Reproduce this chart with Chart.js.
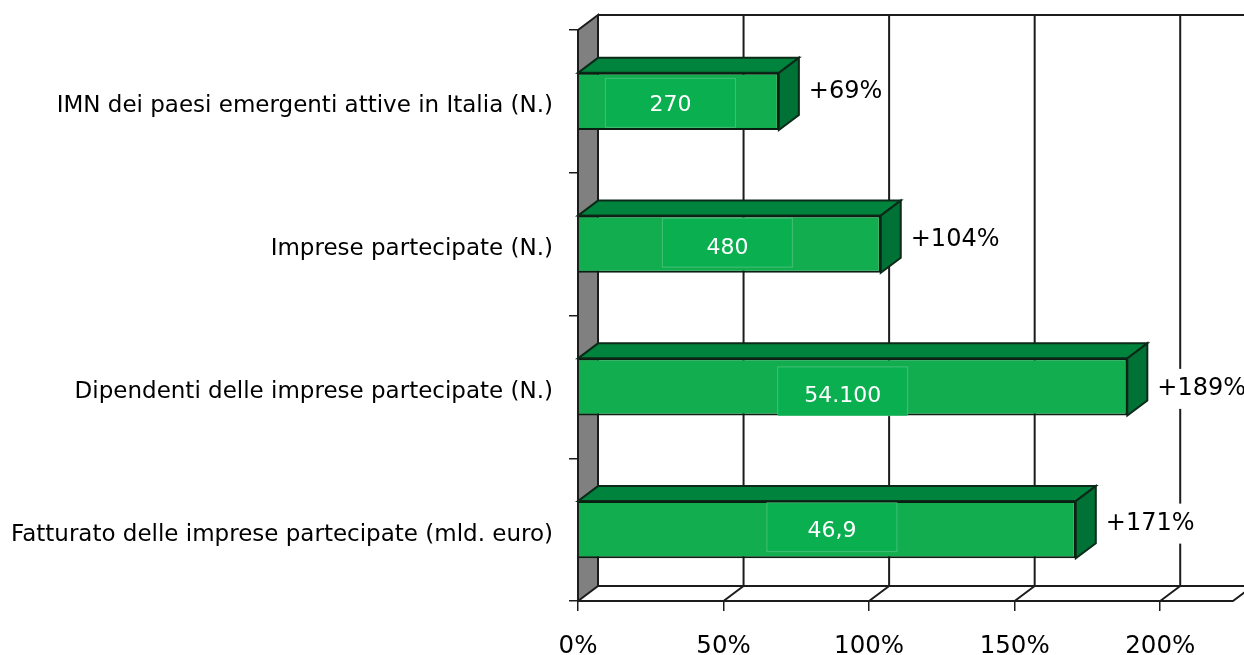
<!DOCTYPE html>
<html>
<head>
<meta charset="utf-8">
<title>IMN dei paesi emergenti</title>
<script src="https://cdn.jsdelivr.net/npm/chart.js@4"></script>
<style>
  html, body { margin: 0; padding: 0; background: #fff; }
  #wrap { width: 1244px; height: 655px; }
</style>
</head>
<body>
<div id="wrap"><canvas id="chart" width="1244" height="655"></canvas></div>
<script>
const categories = [
  "IMN dei paesi emergenti attive in Italia (N.)",
  "Imprese partecipate (N.)",
  "Dipendenti delle imprese partecipate (N.)",
  "Fatturato delle imprese partecipate (mld. euro)"
];
const growthValues = [69, 104, 188.7, 171];
const growthLabels = ["+69%", "+104%", "+189%", "+171%"];
const absoluteLabels = ["270", "480", "54.100", "46,9"];

const FONT = '"DejaVu Sans", sans-serif';
const LINE = "#1c1c1c";
const DX = 20, DY = -15;

function poly(ctx, pts, fill) {
  ctx.beginPath();
  pts.forEach((p, i) => i ? ctx.lineTo(p[0], p[1]) : ctx.moveTo(p[0], p[1]));
  ctx.closePath();
  if (fill) { ctx.fillStyle = fill; ctx.fill(); }
  ctx.stroke();
}

// 3D box look: back wall, floor, back grid lines and bar top/side faces
const box3d = {
  id: "box3d",
  beforeDatasetsDraw(chart) {
    const { ctx, chartArea: a, scales: { x } } = chart;
    ctx.save();
    ctx.strokeStyle = LINE;
    ctx.lineWidth = 2;

    poly(ctx, [[a.left, a.top], [a.left + DX, a.top + DY], [a.left + DX, a.bottom + DY], [a.left, a.bottom]], "#808080");

    ctx.beginPath();
    ctx.moveTo(a.left + DX, a.top + DY);
    ctx.lineTo(chart.width, a.top + DY);
    ctx.moveTo(a.left + DX, a.bottom + DY);
    ctx.lineTo(chart.width, a.bottom + DY);
    ctx.moveTo(a.right, a.bottom);
    ctx.lineTo(a.right + DX, a.bottom + DY);
    x.ticks.forEach(t => {
      const px = x.getPixelForValue(t.value);
      if (t.value > 0) {
        ctx.moveTo(px, a.bottom);
        ctx.lineTo(px + DX, a.bottom + DY);
        ctx.moveTo(px + DX, a.bottom + DY);
        ctx.lineTo(px + DX, a.top + DY);
      }
    });
    ctx.stroke();

    ctx.lineWidth = 2;
    ctx.strokeStyle = "#0c2a18";
    chart.getDatasetMeta(0).data.forEach(bar => {
      const top = bar.y - bar.height / 2, bot = bar.y + bar.height / 2;
      poly(ctx, [[a.left, top], [a.left + DX, top + DY], [bar.x + DX, top + DY], [bar.x, top]], "#00843d");
      poly(ctx, [[bar.x, top], [bar.x + DX, top + DY], [bar.x + DX, bot + DY], [bar.x, bot]], "#007236");
    });
    ctx.restore();
  },
  afterDatasetsDraw(chart, args, opts) {
    const { ctx } = chart;
    ctx.save();
    ctx.textBaseline = "middle";
    chart.getDatasetMeta(0).data.forEach((bar, i) => {
      // value box inside the bar
      const cx = (chart.chartArea.left + bar.x) / 2 + opts.valueShiftX[i];
      const cy = bar.y + opts.valueShiftY[i];
      ctx.fillStyle = "#0ab050";
      ctx.strokeStyle = "rgba(255,255,255,0.22)";
      ctx.lineWidth = 1;
      ctx.fillRect(cx - 65, cy - 25, 130, 49);
      ctx.strokeRect(cx - 65, cy - 25, 130, 49);
      ctx.font = "22px " + FONT;
      ctx.textAlign = "center";
      ctx.fillStyle = "#fff";
      ctx.fillText(absoluteLabels[i], cx, cy + opts.valueTextY[i]);

      // growth label right of the bar, on white
      ctx.font = "24px " + FONT;
      ctx.textAlign = "left";
      const w = ctx.measureText(growthLabels[i]).width;
      const lx = bar.x + DX + 10;
      const ly = bar.y + opts.growthShiftY[i];
      ctx.fillStyle = "#fff";
      ctx.fillRect(lx - 2, ly - 20, w + 4, 40);
      ctx.fillStyle = "#000";
      ctx.fillText(growthLabels[i], lx, ly);
    });
    ctx.restore();
  }
};

new Chart(document.getElementById("chart").getContext("2d"), {
  type: "bar",
  data: {
    labels: categories,
    datasets: [{
      data: growthValues,
      backgroundColor: "#12ad4f",
      borderColor: "#0a1f12",
      borderWidth: 2,
      barPercentage: 1,
      categoryPercentage: 0.4
    }]
  },
  options: {
    indexAxis: "y",
    responsive: false,
    animation: false,
    layout: { padding: { top: 30, right: 11 } },
    plugins: {
      legend: { display: false },
      tooltip: { enabled: false },
      box3d: {
        valueShiftX: [-8, -2, -10, 5],
        valueShiftY: [2, -1, 5, -2],
        valueTextY: [2, 5.5, 4, 3.5],
        growthShiftY: [-10, -4, 2, -6]
      }
    },
    scales: {
      x: {
        min: 0,
        max: 225,
        afterBuildTicks(s) { s.ticks = s.ticks.filter(t => t.value <= 200); },
        afterFit(s) { s.height = 54; },
        border: { color: LINE, width: 2 },
        grid: { drawOnChartArea: false, color: LINE, lineWidth: 1.5, tickLength: 10 },
        ticks: {
          stepSize: 50,
          maxRotation: 0,
          padding: 21,
          color: "#000",
          font: { family: FONT, size: 24.5 },
          callback: v => v + "%"
        }
      },
      y: {
        afterFit(s) { s.width = 578; },
        border: { color: LINE, width: 2 },
        grid: { drawOnChartArea: false, color: LINE, lineWidth: 1.5, tickLength: 9 },
        ticks: {
          padding: 16,
          labelOffset: 5,
          color: "#000",
          font: { family: FONT, size: 23 }
        }
      }
    }
  },
  plugins: [box3d]
});
</script>
</body>
</html>
